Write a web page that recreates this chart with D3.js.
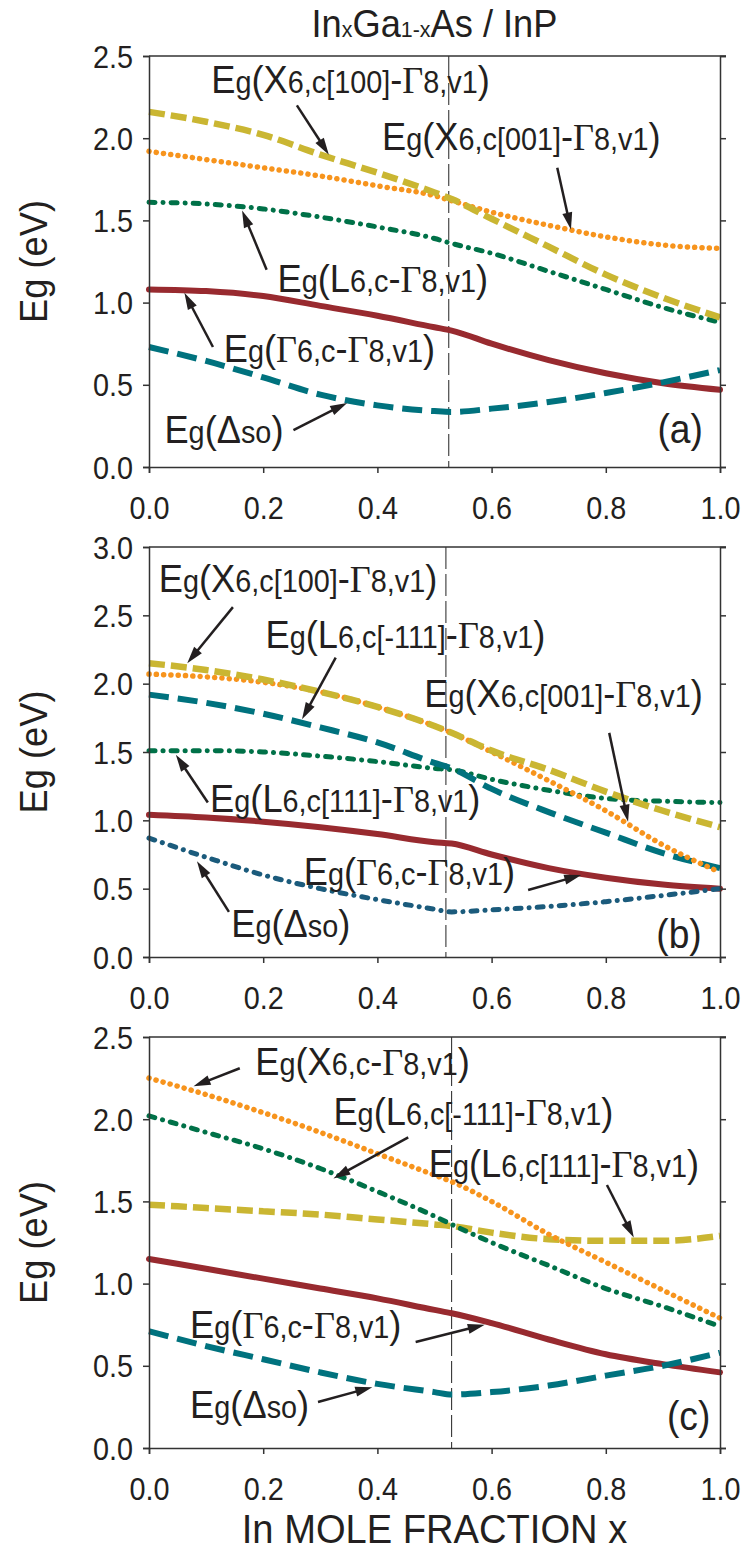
<!DOCTYPE html>
<html><head><meta charset="utf-8">
<script src="https://cdn.jsdelivr.net/npm/d3@7"></script>
<style>html,body{margin:0;padding:0;background:#fff;} svg{display:block;}</style>
</head><body>
<svg id="chart" width="742" height="1554"></svg>
<script>
// ---------------- DATA ----------------
const xFrac = [0, 0.1, 0.2, 0.3, 0.4, 0.5, 0.53, 0.6, 0.7, 0.8, 0.9, 1.0];

// panel (a)
const aX100  = [2.16, 2.10, 2.02, 1.90, 1.79, 1.67, 1.63, 1.51, 1.34, 1.17, 1.03, 0.91];
const aX001  = [1.92, 1.87, 1.82, 1.77, 1.71, 1.65, 1.62, 1.55, 1.47, 1.40, 1.35, 1.33];
const aL     = [1.61, 1.60, 1.57, 1.52, 1.46, 1.39, 1.36, 1.30, 1.19, 1.08, 0.97, 0.88];
const aGamma = [1.08, 1.07, 1.04, 0.98, 0.92, 0.85, 0.83, 0.75, 0.65, 0.57, 0.51, 0.47];
const aDso   = [0.73, 0.645, 0.545, 0.44, 0.375, 0.34, 0.335, 0.355, 0.395, 0.45, 0.515, 0.59];

// panel (b)
const bX100  = [2.15, 2.10, 2.03, 1.94, 1.83, 1.69, 1.64, 1.51, 1.37, 1.21, 1.07, 0.95];
const bX001  = [2.07, 2.05, 2.01, 1.94, 1.83, 1.69, 1.64, 1.50, 1.29, 1.07, 0.82, 0.62];
const bLm111 = [1.92, 1.86, 1.78, 1.68, 1.57, 1.42, 1.38, 1.23, 1.06, 0.91, 0.76, 0.65];
const bL111  = [1.51, 1.51, 1.50, 1.47, 1.43, 1.38, 1.37, 1.30, 1.22, 1.16, 1.14, 1.13];
const bGamma = [1.04, 1.02, 0.99, 0.95, 0.90, 0.84, 0.83, 0.75, 0.65, 0.58, 0.53, 0.50];
const bDso   = [0.87, 0.73, 0.60, 0.50, 0.42, 0.35, 0.33, 0.345, 0.37, 0.405, 0.45, 0.50];

// panel (c)
const cX     = [2.25, 2.15, 2.04, 1.92, 1.79, 1.66, 1.62, 1.50, 1.30, 1.13, 0.96, 0.79];
const cLm111 = [2.02, 1.92, 1.82, 1.70, 1.56, 1.41, 1.36, 1.25, 1.11, 0.97, 0.86, 0.74];
const cL111  = [1.48, 1.46, 1.44, 1.42, 1.39, 1.36, 1.35, 1.31, 1.27, 1.26, 1.26, 1.29];
const cGamma = [1.15, 1.09, 1.03, 0.97, 0.91, 0.84, 0.82, 0.76, 0.66, 0.57, 0.51, 0.46];
const cDso   = [0.71, 0.62, 0.54, 0.46, 0.39, 0.34, 0.325, 0.34, 0.38, 0.44, 0.50, 0.58];

const xTicks  = [0, 0.2, 0.4, 0.6, 0.8, 1.0];
const yTicksA = [0, 0.5, 1.0, 1.5, 2.0, 2.5];
const yTicksB = [0, 0.5, 1.0, 1.5, 2.0, 2.5, 3.0];
const yTicksC = [0, 0.5, 1.0, 1.5, 2.0, 2.5];
const latticeX = [0.525, 0.52, 0.53];
const panelTags = ["(a)", "(b)", "(c)"];

// label texts (segments: B = large, S = small, G = large Greek)
const txtX100  = [["E","B"],["g","S"],["(","B"],["X","B"],["6,c[100]","S"],["-","B"],["Γ","G"],["8,v1","S"],[")","B"]];
const txtX001  = [["E","B"],["g","S"],["(","B"],["X","B"],["6,c[001]","S"],["-","B"],["Γ","G"],["8,v1","S"],[")","B"]];
const txtX     = [["E","B"],["g","S"],["(","B"],["X","B"],["6,c","S"],["-","B"],["Γ","G"],["8,v1","S"],[")","B"]];
const txtL     = [["E","B"],["g","S"],["(","B"],["L","B"],["6,c","S"],["-","B"],["Γ","G"],["8,v1","S"],[")","B"]];
const txtLm111 = [["E","B"],["g","S"],["(","B"],["L","B"],["6,c[-111]","S"],["-","B"],["Γ","G"],["8,v1","S"],[")","B"]];
const txtL111  = [["E","B"],["g","S"],["(","B"],["L","B"],["6,c[111]","S"],["-","B"],["Γ","G"],["8,v1","S"],[")","B"]];
const txtGamma = [["E","B"],["g","S"],["(","B"],["Γ","G"],["6,c","S"],["-","B"],["Γ","G"],["8,v1","S"],[")","B"]];
const txtDso   = [["E","B"],["g","S"],["(","B"],["Δ","B"],["so","S"],[")","B"]];
const titleTxt = [["In","B"],["x","S"],["Ga","B"],["1-x","S"],["As / InP","B"]];
const yTitle = "Eg (eV)";
const xTitle = "In MOLE FRACTION x";

// ---------------- STYLES / LAYOUT ----------------
const ST = {
  yellow: {color:"#cab632", width:6.5, dash:"16 6", cap:"butt"},
  orange: {color:"#f7941d", width:5.5, dash:"0.1 7.2", cap:"round"},
  green:  {color:"#007148", width:5,   dash:"6 8 0.1 8", cap:"round"},
  red:    {color:"#982a2f", width:6,   dash:null, cap:"round"},
  teal:   {color:"#00727e", width:6,   dash:"20 9", cap:"butt"},
  blue:   {color:"#1b5b7c", width:5,   dash:"6 8 0.1 8", cap:"round"}
};
const LEFT = 149, RIGHT = 720;
const FONT = "'Liberation Sans', Arial, Helvetica, sans-serif";
const SERIF = "'Liberation Serif', 'Times New Roman', serif";
const SX = 0.93;            // slight horizontal condensing of all text
const BIG = 39, SMALL = 31;
const TICKFS = 31;
const INK = "#231f20";

const panels = [
  { top:56, bottom:467, ymax:2.5, yTicks:yTicksA, lattice:latticeX[0], tag:panelTags[0], tagPos:[0.97,0.148],
    series:[[aGamma,"red"],[aDso,"teal"],[aL,"green"],[aX001,"orange"],[aX100,"yellow"]],
    labels:[
      {t:txtX100, at:[0.109,2.273], arrow:[0.259,2.20,0.315,1.90]},
      {t:txtX001, at:[0.408,1.928], arrow:[0.715,1.82,0.739,1.445]},
      {t:txtL,    at:[0.225,1.066], arrow:[0.206,1.20,0.163,1.56]},
      {t:txtGamma,at:[0.131,0.640], arrow:[0.112,0.73,0.062,1.06]},
      {t:txtDso,  at:[0.027,0.148], arrow:[0.253,0.225,0.347,0.39]}
    ]},
  { top:547, bottom:957, ymax:3.0, yTicks:yTicksB, lattice:latticeX[1], tag:panelTags[1], tagPos:[0.968,0.066],
    series:[[bGamma,"red"],[bDso,"blue"],[bL111,"green"],[bLm111,"teal"],[bX001,"orange"],[bX100,"yellow"]],
    labels:[
      {t:txtX100, at:[0.017,2.671], arrow:[0.147,2.56,0.067,2.15]},
      {t:txtLm111,at:[0.204,2.261], arrow:[0.327,2.19,0.268,1.74]},
      {t:txtX001, at:[0.482,1.829], arrow:[0.806,1.64,0.839,0.99]},
      {t:txtL111, at:[0.107,1.061], arrow:[0.103,1.13,0.047,1.48]},
      {t:txtGamma,at:[0.271,0.527], arrow:[0.664,0.49,0.757,0.60]},
      {t:txtDso,  at:[0.144,0.146], arrow:[0.14,0.33,0.084,0.70]}
    ]},
  { top:1037, bottom:1448, ymax:2.5, yTicks:yTicksC, lattice:latticeX[2], tag:panelTags[2], tagPos:[0.983,0.11],
    series:[[cGamma,"red"],[cDso,"teal"],[cL111,"yellow"],[cLm111,"green"],[cX,"orange"]],
    labels:[
      {t:txtX,    at:[0.186,2.269], arrow:[0.159,2.31,0.078,2.20]},
      {t:txtLm111,at:[0.323,1.965], arrow:[0.454,1.89,0.323,1.64]},
      {t:txtL111, at:[0.49,1.648],  arrow:[0.802,1.60,0.849,1.28]},
      {t:txtGamma,at:[0.072,0.669], arrow:[0.467,0.645,0.588,0.75]},
      {t:txtDso,  at:[0.072,0.182], arrow:[0.296,0.28,0.391,0.37]}
    ]}
];

const svg = d3.select("#chart");
const x = d3.scaleLinear().domain([0,1]).range([LEFT, RIGHT]);

function richText(g, segs, px, py, B, S, anchor) {
  const t = g.append("text").attr("x", 0).attr("y", 0)
    .attr("transform", `translate(${px},${py}) scale(${SX},1)`)
    .attr("font-family", FONT).attr("fill", INK)
    .attr("text-anchor", anchor || "start");
  segs.forEach(([s, type]) => {
    const ts = t.append("tspan").text(s).attr("font-size", type === "S" ? S : B);
    if (type === "G") ts.attr("font-family", SERIF);
  });
  return t;
}

function arrow(g, x1, y1, x2, y2) {
  const dx = x2 - x1, dy = y2 - y1, L = Math.hypot(dx, dy);
  const ux = dx / L, uy = dy / L, hl = 17, hw = 5;
  const bx = x2 - ux * hl, by = y2 - uy * hl;
  g.append("line").attr("x1", x1).attr("y1", y1).attr("x2", bx + ux*2).attr("y2", by + uy*2)
    .attr("stroke", INK).attr("stroke-width", 2.5);
  g.append("path")
    .attr("d", `M${x2},${y2}L${bx - uy*hw},${by + ux*hw}L${bx + uy*hw},${by - ux*hw}Z`)
    .attr("fill", INK);
}

panels.forEach((p, i) => {
  const y = d3.scaleLinear().domain([0, p.ymax]).range([p.bottom, p.top]);
  const g = svg.append("g");
  const axisColor = "#333";

  // lattice-matched line
  g.append("line").attr("x1", x(p.lattice)).attr("x2", x(p.lattice))
    .attr("y1", y(p.ymax)).attr("y2", y(0))
    .attr("stroke", "#222").attr("stroke-width", 1).attr("stroke-dasharray", "22 5");

  // curves
  const line = d3.line().x((d, k) => x(xFrac[k])).y(d => y(d)).curve(d3.curveMonotoneX);
  p.series.forEach(([vals, key]) => {
    const s = ST[key];
    const path = g.append("path").datum(vals).attr("d", line)
      .attr("fill", "none").attr("stroke", s.color).attr("stroke-width", s.width)
      .attr("stroke-linecap", s.cap).attr("stroke-linejoin", "round");
    if (s.dash) path.attr("stroke-dasharray", s.dash);
  });

  // axes
  const left = g.append("g").attr("transform", `translate(${LEFT},0)`)
    .call(d3.axisLeft(y).tickValues(p.yTicks).tickSize(6).tickFormat(d3.format(".1f")));
  const right = g.append("g").attr("transform", `translate(${RIGHT},0)`)
    .call(d3.axisRight(y).tickValues(p.yTicks).tickSize(6).tickFormat(""));
  const bottom = g.append("g").attr("transform", `translate(0,${p.bottom})`)
    .call(d3.axisBottom(x).tickValues(xTicks).tickSize(6).tickFormat(d3.format(".1f")));
  const top = g.append("g").attr("transform", `translate(0,${p.top})`)
    .call(d3.axisTop(x).tickValues([]).tickSize(0));
  [left, right, bottom, top].forEach(a => {
    a.select(".domain").attr("stroke", axisColor).attr("stroke-width", 1.5);
    a.selectAll(".tick line").attr("stroke", axisColor).attr("stroke-width", 1.5);
    a.selectAll("text").attr("font-family", FONT).attr("font-size", TICKFS).attr("fill", INK);
  });
  left.selectAll(".tick text").attr("x", -16 / SX).attr("dy", "0.36em")
    .attr("transform", `scale(${SX},1)`);
  bottom.selectAll(".tick text").attr("y", 41).attr("dy", "0.36em")
    .attr("transform", `scale(${SX},1)`);
  top.select(".domain").attr("d", `M${LEFT},0H${RIGHT + 6}`);

  // labels + arrows
  p.labels.forEach(l => {
    richText(g, l.t, x(l.at[0]), y(l.at[1]), BIG, SMALL);
    arrow(g, x(l.arrow[0]), y(l.arrow[1]), x(l.arrow[2]), y(l.arrow[3]));
  });

  // panel tag
  g.append("text").attr("transform", `translate(${x(p.tagPos[0])},${y(p.tagPos[1])}) scale(${SX},1)`)
    .attr("text-anchor", "end").attr("font-family", FONT).attr("font-size", 40)
    .attr("fill", INK).text(p.tag);

  // y title
  g.append("text").attr("transform", `translate(47,${(p.top + p.bottom) / 2}) rotate(-90) scale(${SX},1)`)
    .attr("text-anchor", "middle").attr("font-family", FONT).attr("font-size", 39)
    .attr("fill", INK).text(yTitle);
});

// title and x title
richText(svg, titleTxt, (LEFT + RIGHT) / 2, 37, 39, 23, "middle");
svg.append("text").attr("transform", `translate(${(LEFT + RIGHT) / 2},1543) scale(${SX},1)`)
  .attr("text-anchor", "middle")
  .attr("font-family", FONT).attr("font-size", 41).attr("fill", INK).text(xTitle);
</script>
</body></html>
